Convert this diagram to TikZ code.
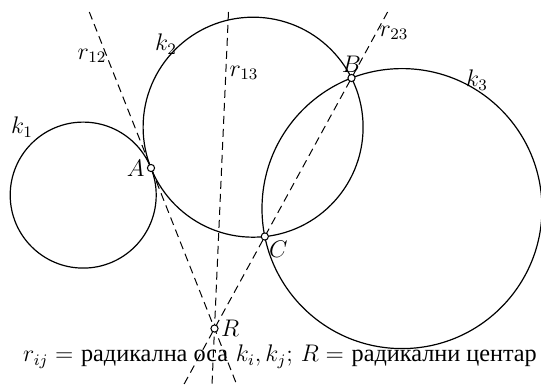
\documentclass[tikz,border=0pt]{standalone}
\usepackage{fontspec}
\newfontfamily\cyrfont[Scale=1.01]{Liberation Serif}
\usetikzlibrary{positioning}

\begin{document}
\begin{tikzpicture}[x=0.5pt, y=-0.5pt, font=\large,
  krug/.style={line width=0.6pt},
  osa/.style={line width=0.5pt, dash pattern=on 4pt off 2.5pt},
  tacka/.style={circle, draw, fill=white, inner sep=0pt, minimum size=3.6pt, line width=0.5pt},
  oznaka/.style={inner sep=0.5pt}]
  \useasboundingbox (0,0) rectangle (541,385);
  % centri krugova
  \coordinate (O1) at (83.2,195.1);
  \coordinate (O2) at (253.1,127.2);
  \coordinate (O3) at (402,208.6);
  \draw[krug] (O1) circle[radius=73];
  \draw[krug] (O2) circle[radius=110];
  \draw[krug] (O3) circle[radius=140];
  % radikalne ose
  \coordinate (g12) at (89.3,12);
  \coordinate (d12) at (236.9,385);
  \coordinate (g13) at (228.5,12);
  \coordinate (d13) at (212,385);
  \coordinate (g23) at (387.6,12);
  \coordinate (d23) at (183.6,385);
  \draw[osa] (g12) -- (d12);
  \draw[osa] (g13) -- (d13);
  \draw[osa] (g23) -- (d23);
  % tacke
  \node[tacka] (A) at (151,168) {};
  \node[tacka] (B) at (351.5,78) {};
  \node[tacka] (C) at (264.8,236.5) {};
  \node[tacka] (R) at (214.5,328.5) {};
  \node[oznaka, left=0.5pt of A] {$A$};
  \node[oznaka, above=0pt of B] {$B$};
  \node[oznaka, below right=0pt and 0pt of C] {$C$};
  \node[oznaka, right=0.5pt of R] {$R$};
  % oznake krugova i osa
  \node[oznaka] (lk1) at (22,127) {$k_1$};
  \node[oznaka] (lk2) at (166,44) {$k_2$};
  \node[oznaka] (lk3) at (477,80) {$k_3$};
  \node[oznaka] (lr12) at (92,56) {$r_{12}$};
  \node[oznaka] (lr13) at (244,73) {$r_{13}$};
  \node[oznaka] (lr23) at (394,33) {$r_{23}$};
  \node[oznaka] (legenda) at (280,357)
    {$r_{ij}=$ {\cyrfont радикална оса} $k_i,k_j$;\ $R=$ {\cyrfont радикални центар}};
\end{tikzpicture}
\end{document}
